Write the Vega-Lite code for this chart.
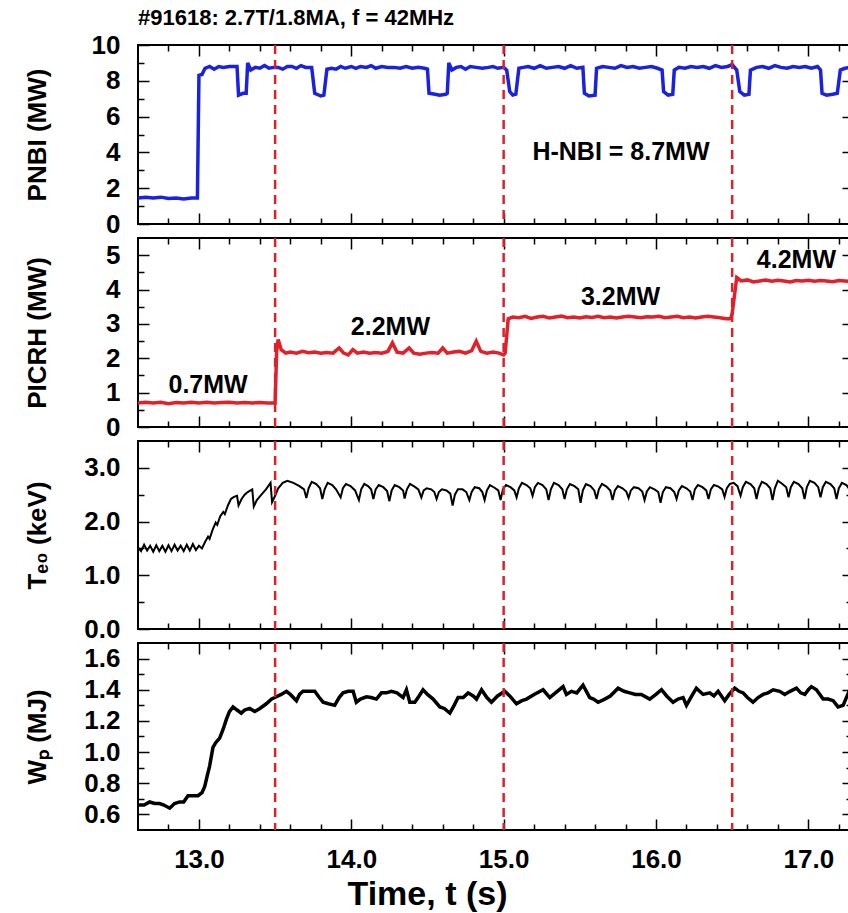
{
"$schema": "https://vega.github.io/schema/vega-lite/v6.json",
"padding": {"left": 23, "right": 0, "top": 6, "bottom": 0},
"autosize": {"type": "pad"},
"config": {
 "font": "Liberation Sans",
 "view": {"stroke": "black", "strokeWidth": 2},
 "axis": {"domain": false, "grid": false, "minExtent": 0, "labelFont": "Liberation Sans", "labelFontWeight": "bold", "labelFontSize": 26, "labelColor": "black", "tickColor": "black", "tickWidth": 1.5, "titleFont": "Liberation Sans", "titleFontWeight": "bold", "titleFontSize": 26, "titleColor": "black", "labelOverlap": false, "labelFlush": false, "labelBound": false},
 "text": {"font": "Liberation Sans", "fontWeight": "bold", "fontSize": 25, "color": "black"}
},
"datasets": {
 "markers": [{"t": 13.5}, {"t": 15.0}, {"t": 16.5}],
 "nbi": [
  {"t":12.60,"v":1.45},{"t":12.65,"v":1.5},{"t":12.70,"v":1.45},{"t":12.75,"v":1.5},{"t":12.80,"v":1.42},{"t":12.85,"v":1.45},{"t":12.90,"v":1.4},{"t":12.95,"v":1.45},{"t":12.99,"v":1.45},
  {"t":13.00,"v":8.3},{"t":13.02,"v":8.35},{"t":13.04,"v":8.7},{"t":13.07,"v":8.8},{"t":13.10,"v":8.65},{"t":13.13,"v":8.8},{"t":13.16,"v":8.75},{"t":13.20,"v":8.8},{"t":13.25,"v":8.8},
  {"t":13.26,"v":7.2},{"t":13.29,"v":7.3},{"t":13.31,"v":7.3},{"t":13.32,"v":9.0},{"t":13.34,"v":8.6},{"t":13.37,"v":8.75},{"t":13.40,"v":8.7},{"t":13.43,"v":8.85},{"t":13.46,"v":8.7},{"t":13.49,"v":8.75},{"t":13.52,"v":8.75},{"t":13.55,"v":8.65},{"t":13.58,"v":8.8},{"t":13.61,"v":8.8},{"t":13.64,"v":8.7},{"t":13.67,"v":8.85},{"t":13.70,"v":8.75},{"t":13.74,"v":8.75},
  {"t":13.76,"v":7.3},{"t":13.80,"v":7.15},{"t":13.82,"v":7.2},{"t":13.84,"v":8.65},{"t":13.87,"v":8.7},{"t":13.90,"v":8.65},{"t":13.93,"v":8.8},{"t":13.96,"v":8.7},{"t":14.00,"v":8.8},{"t":14.03,"v":8.7},{"t":14.06,"v":8.8},{"t":14.10,"v":8.75},{"t":14.13,"v":8.85},{"t":14.16,"v":8.7},{"t":14.20,"v":8.8},{"t":14.24,"v":8.75},{"t":14.28,"v":8.75},{"t":14.32,"v":8.7},{"t":14.36,"v":8.8},{"t":14.40,"v":8.7},{"t":14.44,"v":8.75},{"t":14.48,"v":8.7},{"t":14.50,"v":8.65},
  {"t":14.51,"v":7.3},{"t":14.55,"v":7.25},{"t":14.58,"v":7.2},{"t":14.62,"v":7.25},{"t":14.63,"v":7.3},{"t":14.64,"v":9.0},{"t":14.66,"v":8.6},{"t":14.69,"v":8.75},{"t":14.72,"v":8.8},{"t":14.75,"v":8.65},{"t":14.78,"v":8.8},{"t":14.82,"v":8.75},{"t":14.86,"v":8.7},{"t":14.90,"v":8.75},{"t":14.93,"v":8.8},{"t":14.96,"v":8.7},{"t":15.00,"v":8.75},{"t":15.02,"v":8.6},
  {"t":15.04,"v":7.4},{"t":15.06,"v":7.2},{"t":15.08,"v":7.25},{"t":15.10,"v":8.7},{"t":15.13,"v":8.75},{"t":15.16,"v":8.8},{"t":15.20,"v":8.7},{"t":15.24,"v":8.85},{"t":15.28,"v":8.7},{"t":15.32,"v":8.75},{"t":15.36,"v":8.8},{"t":15.40,"v":8.7},{"t":15.44,"v":8.85},{"t":15.48,"v":8.7},{"t":15.52,"v":8.75},
  {"t":15.53,"v":7.3},{"t":15.56,"v":7.15},{"t":15.60,"v":7.2},{"t":15.61,"v":8.7},{"t":15.65,"v":8.8},{"t":15.69,"v":8.75},{"t":15.73,"v":8.7},{"t":15.77,"v":8.85},{"t":15.81,"v":8.75},{"t":15.85,"v":8.8},{"t":15.89,"v":8.7},{"t":15.93,"v":8.75},{"t":15.97,"v":8.8},{"t":16.01,"v":8.7},{"t":16.04,"v":8.6},
  {"t":16.05,"v":7.4},{"t":16.08,"v":7.2},{"t":16.11,"v":7.25},{"t":16.12,"v":8.6},{"t":16.15,"v":8.75},{"t":16.19,"v":8.7},{"t":16.23,"v":8.8},{"t":16.27,"v":8.75},{"t":16.31,"v":8.8},{"t":16.35,"v":8.7},{"t":16.39,"v":8.85},{"t":16.43,"v":8.75},{"t":16.47,"v":8.8},{"t":16.50,"v":8.9},{"t":16.53,"v":8.6},
  {"t":16.55,"v":7.4},{"t":16.58,"v":7.2},{"t":16.61,"v":7.25},{"t":16.62,"v":8.6},{"t":16.66,"v":8.75},{"t":16.70,"v":8.8},{"t":16.74,"v":8.7},{"t":16.78,"v":8.85},{"t":16.82,"v":8.75},{"t":16.86,"v":8.7},{"t":16.90,"v":8.8},{"t":16.94,"v":8.75},{"t":16.98,"v":8.8},{"t":17.02,"v":8.7},{"t":17.06,"v":8.8},{"t":17.08,"v":8.6},
  {"t":17.09,"v":7.3},{"t":17.12,"v":7.2},{"t":17.16,"v":7.25},{"t":17.19,"v":7.3},{"t":17.21,"v":8.6},{"t":17.24,"v":8.7},{"t":17.28,"v":8.75}
 ],
 "icrh": [
  {"t":12.60,"v":0.7},{"t":12.65,"v":0.72},{"t":12.70,"v":0.7},{"t":12.75,"v":0.72},{"t":12.80,"v":0.68},{"t":12.85,"v":0.71},{"t":12.90,"v":0.7},{"t":12.95,"v":0.72},{"t":13.00,"v":0.7},{"t":13.05,"v":0.72},{"t":13.10,"v":0.7},{"t":13.15,"v":0.71},{"t":13.20,"v":0.72},{"t":13.25,"v":0.7},{"t":13.30,"v":0.71},{"t":13.35,"v":0.7},{"t":13.40,"v":0.71},{"t":13.45,"v":0.7},{"t":13.50,"v":0.7},
  {"t":13.51,"v":2.2},{"t":13.52,"v":2.55},{"t":13.54,"v":2.25},{"t":13.57,"v":2.15},{"t":13.60,"v":2.18},{"t":13.64,"v":2.15},{"t":13.68,"v":2.2},{"t":13.72,"v":2.16},{"t":13.76,"v":2.18},{"t":13.80,"v":2.15},{"t":13.84,"v":2.17},{"t":13.88,"v":2.15},{"t":13.92,"v":2.3},{"t":13.95,"v":2.15},{"t":13.98,"v":2.1},{"t":14.01,"v":2.25},{"t":14.04,"v":2.15},{"t":14.08,"v":2.18},{"t":14.12,"v":2.15},{"t":14.16,"v":2.17},{"t":14.20,"v":2.15},{"t":14.24,"v":2.2},{"t":14.27,"v":2.45},{"t":14.30,"v":2.18},{"t":14.34,"v":2.15},{"t":14.38,"v":2.3},{"t":14.41,"v":2.15},{"t":14.45,"v":2.12},{"t":14.49,"v":2.15},{"t":14.53,"v":2.17},{"t":14.57,"v":2.15},{"t":14.60,"v":2.3},{"t":14.63,"v":2.15},{"t":14.67,"v":2.18},{"t":14.71,"v":2.2},{"t":14.75,"v":2.15},{"t":14.79,"v":2.22},{"t":14.82,"v":2.5},{"t":14.85,"v":2.2},{"t":14.89,"v":2.15},{"t":14.93,"v":2.18},{"t":14.97,"v":2.15},{"t":15.00,"v":2.1},{"t":15.01,"v":2.15},
  {"t":15.03,"v":3.15},{"t":15.06,"v":3.2},{"t":15.10,"v":3.18},{"t":15.14,"v":3.22},{"t":15.18,"v":3.16},{"t":15.22,"v":3.2},{"t":15.26,"v":3.22},{"t":15.30,"v":3.17},{"t":15.34,"v":3.2},{"t":15.38,"v":3.23},{"t":15.42,"v":3.18},{"t":15.46,"v":3.2},{"t":15.50,"v":3.17},{"t":15.54,"v":3.21},{"t":15.58,"v":3.19},{"t":15.62,"v":3.22},{"t":15.66,"v":3.18},{"t":15.70,"v":3.2},{"t":15.74,"v":3.17},{"t":15.78,"v":3.2},{"t":15.82,"v":3.22},{"t":15.86,"v":3.2},{"t":15.90,"v":3.18},{"t":15.94,"v":3.21},{"t":15.98,"v":3.2},{"t":16.02,"v":3.22},{"t":16.06,"v":3.18},{"t":16.10,"v":3.2},{"t":16.14,"v":3.22},{"t":16.18,"v":3.18},{"t":16.22,"v":3.2},{"t":16.26,"v":3.17},{"t":16.30,"v":3.2},{"t":16.34,"v":3.22},{"t":16.38,"v":3.2},{"t":16.42,"v":3.18},{"t":16.46,"v":3.15},{"t":16.49,"v":3.15},
  {"t":16.50,"v":3.3},{"t":16.52,"v":4.0},{"t":16.53,"v":4.35},{"t":16.56,"v":4.25},{"t":16.60,"v":4.28},{"t":16.64,"v":4.22},{"t":16.68,"v":4.25},{"t":16.72,"v":4.28},{"t":16.76,"v":4.24},{"t":16.80,"v":4.27},{"t":16.84,"v":4.25},{"t":16.88,"v":4.22},{"t":16.92,"v":4.26},{"t":16.96,"v":4.25},{"t":17.00,"v":4.27},{"t":17.04,"v":4.24},{"t":17.08,"v":4.26},{"t":17.12,"v":4.25},{"t":17.16,"v":4.23},{"t":17.20,"v":4.26},{"t":17.24,"v":4.25},{"t":17.28,"v":4.24}
 ],
 "te": [
  {"t":12.60,"v":1.52},{"t":12.62,"v":1.45},{"t":12.64,"v":1.57},{"t":12.66,"v":1.46},{"t":12.68,"v":1.55},{"t":12.70,"v":1.44},{"t":12.72,"v":1.56},{"t":12.74,"v":1.45},{"t":12.76,"v":1.55},{"t":12.78,"v":1.44},{"t":12.80,"v":1.56},{"t":12.82,"v":1.45},{"t":12.84,"v":1.57},{"t":12.86,"v":1.46},{"t":12.88,"v":1.55},{"t":12.90,"v":1.45},{"t":12.92,"v":1.57},{"t":12.94,"v":1.46},{"t":12.96,"v":1.58},{"t":12.98,"v":1.47},
  {"t":13.00,"v":1.55},{"t":13.02,"v":1.5},{"t":13.04,"v":1.62},{"t":13.06,"v":1.72},{"t":13.07,"v":1.68},{"t":13.09,"v":1.85},{"t":13.11,"v":1.98},{"t":13.12,"v":1.94},{"t":13.14,"v":2.1},{"t":13.16,"v":2.18},{"t":13.17,"v":2.14},{"t":13.19,"v":2.3},{"t":13.21,"v":2.42},{"t":13.23,"v":2.46},{"t":13.25,"v":2.48},{"t":13.26,"v":2.3},{"t":13.28,"v":2.42},{"t":13.30,"v":2.5},{"t":13.32,"v":2.55},{"t":13.35,"v":2.6},{"t":13.36,"v":2.28},{"t":13.38,"v":2.4},{"t":13.41,"v":2.5},{"t":13.44,"v":2.6},{"t":13.47,"v":2.72},{"t":13.48,"v":2.36},{"t":13.50,"v":2.48},{"t":13.52,"v":2.62},{"t":13.55,"v":2.72},{"t":13.58,"v":2.76},{"t":13.62,"v":2.72},{"t":13.66,"v":2.66},{"t":13.69,"v":2.6},
  {"t":13.705,"v":2.44},{"t":13.72,"v":2.62},{"t":13.74,"v":2.74},{"t":13.77,"v":2.7},{"t":13.795,"v":2.62},
  {"t":13.81,"v":2.42},{"t":13.825,"v":2.6},{"t":13.845,"v":2.72},{"t":13.875,"v":2.68},{"t":13.9,"v":2.6},
  {"t":13.93,"v":2.45},{"t":13.945,"v":2.62},{"t":13.965,"v":2.7},{"t":13.995,"v":2.66},{"t":14.025,"v":2.58},
  {"t":14.05,"v":2.4},{"t":14.065,"v":2.6},{"t":14.085,"v":2.7},{"t":14.11,"v":2.66},{"t":14.13,"v":2.6},
  {"t":14.145,"v":2.42},{"t":14.16,"v":2.6},{"t":14.18,"v":2.68},{"t":14.21,"v":2.64},{"t":14.235,"v":2.57},
  {"t":14.25,"v":2.38},{"t":14.265,"v":2.58},{"t":14.285,"v":2.68},{"t":14.315,"v":2.64},{"t":14.34,"v":2.58},
  {"t":14.35,"v":2.43},{"t":14.365,"v":2.6},{"t":14.385,"v":2.7},{"t":14.415,"v":2.65},{"t":14.44,"v":2.6},
  {"t":14.46,"v":2.45},{"t":14.475,"v":2.58},{"t":14.495,"v":2.62},{"t":14.525,"v":2.6},{"t":14.545,"v":2.55},
  {"t":14.56,"v":2.42},{"t":14.575,"v":2.55},{"t":14.595,"v":2.6},{"t":14.625,"v":2.58},{"t":14.65,"v":2.52},
  {"t":14.665,"v":2.3},{"t":14.68,"v":2.5},{"t":14.7,"v":2.6},{"t":14.73,"v":2.6},{"t":14.755,"v":2.55},
  {"t":14.775,"v":2.4},{"t":14.79,"v":2.55},{"t":14.81,"v":2.64},{"t":14.84,"v":2.62},{"t":14.86,"v":2.55},
  {"t":14.875,"v":2.4},{"t":14.89,"v":2.58},{"t":14.91,"v":2.68},{"t":14.94,"v":2.63},{"t":14.965,"v":2.58},
  {"t":14.98,"v":2.4},{"t":14.995,"v":2.6},{"t":15.015,"v":2.68},{"t":15.045,"v":2.64},{"t":15.07,"v":2.58},
  {"t":15.085,"v":2.45},{"t":15.1,"v":2.62},{"t":15.12,"v":2.72},{"t":15.15,"v":2.68},{"t":15.175,"v":2.62},
  {"t":15.19,"v":2.48},{"t":15.205,"v":2.64},{"t":15.225,"v":2.72},{"t":15.255,"v":2.68},{"t":15.28,"v":2.6},
  {"t":15.295,"v":2.4},{"t":15.31,"v":2.6},{"t":15.33,"v":2.72},{"t":15.36,"v":2.68},{"t":15.385,"v":2.6},
  {"t":15.4,"v":2.42},{"t":15.415,"v":2.6},{"t":15.435,"v":2.7},{"t":15.465,"v":2.66},{"t":15.49,"v":2.6},
  {"t":15.505,"v":2.35},{"t":15.52,"v":2.58},{"t":15.54,"v":2.7},{"t":15.57,"v":2.66},{"t":15.595,"v":2.58},
  {"t":15.61,"v":2.42},{"t":15.625,"v":2.6},{"t":15.645,"v":2.7},{"t":15.675,"v":2.65},{"t":15.7,"v":2.58},
  {"t":15.715,"v":2.4},{"t":15.73,"v":2.58},{"t":15.75,"v":2.66},{"t":15.78,"v":2.62},{"t":15.805,"v":2.56},
  {"t":15.82,"v":2.44},{"t":15.835,"v":2.58},{"t":15.855,"v":2.64},{"t":15.885,"v":2.62},{"t":15.91,"v":2.56},
  {"t":15.925,"v":2.4},{"t":15.94,"v":2.56},{"t":15.96,"v":2.64},{"t":15.99,"v":2.6},{"t":16.015,"v":2.55},
  {"t":16.03,"v":2.35},{"t":16.045,"v":2.55},{"t":16.065,"v":2.64},{"t":16.095,"v":2.62},{"t":16.12,"v":2.55},
  {"t":16.135,"v":2.42},{"t":16.15,"v":2.58},{"t":16.17,"v":2.66},{"t":16.2,"v":2.62},{"t":16.225,"v":2.56},
  {"t":16.24,"v":2.4},{"t":16.255,"v":2.6},{"t":16.275,"v":2.68},{"t":16.305,"v":2.64},{"t":16.33,"v":2.58},
  {"t":16.345,"v":2.42},{"t":16.36,"v":2.6},{"t":16.38,"v":2.68},{"t":16.41,"v":2.65},{"t":16.435,"v":2.6},
  {"t":16.45,"v":2.46},{"t":16.465,"v":2.62},{"t":16.485,"v":2.7},{"t":16.51,"v":2.72},{"t":16.535,"v":2.66},
  {"t":16.555,"v":2.48},{"t":16.57,"v":2.64},{"t":16.59,"v":2.74},{"t":16.62,"v":2.7},{"t":16.645,"v":2.62},
  {"t":16.66,"v":2.42},{"t":16.675,"v":2.62},{"t":16.695,"v":2.74},{"t":16.725,"v":2.7},{"t":16.75,"v":2.62},
  {"t":16.765,"v":2.4},{"t":16.78,"v":2.62},{"t":16.8,"v":2.76},{"t":16.83,"v":2.7},{"t":16.855,"v":2.64},
  {"t":16.87,"v":2.45},{"t":16.885,"v":2.64},{"t":16.905,"v":2.74},{"t":16.935,"v":2.7},{"t":16.96,"v":2.62},
  {"t":16.975,"v":2.42},{"t":16.99,"v":2.64},{"t":17.01,"v":2.76},{"t":17.04,"v":2.72},{"t":17.065,"v":2.64},
  {"t":17.08,"v":2.45},{"t":17.095,"v":2.64},{"t":17.115,"v":2.74},{"t":17.145,"v":2.7},{"t":17.17,"v":2.62},
  {"t":17.185,"v":2.42},{"t":17.2,"v":2.62},{"t":17.22,"v":2.72},{"t":17.25,"v":2.68},{"t":17.28,"v":2.56}
 ],
 "wp": [
  {"t":12.60,"v":0.66},{"t":12.64,"v":0.66},{"t":12.676,"v":0.68},{"t":12.71,"v":0.67},{"t":12.742,"v":0.67},{"t":12.77,"v":0.66},{"t":12.808,"v":0.64},{"t":12.84,"v":0.67},{"t":12.873,"v":0.68},{"t":12.9,"v":0.68},{"t":12.928,"v":0.72},{"t":12.96,"v":0.72},{"t":12.994,"v":0.72},{"t":13.02,"v":0.74},{"t":13.038,"v":0.78},{"t":13.055,"v":0.85},{"t":13.07,"v":0.91},{"t":13.092,"v":1.03},{"t":13.11,"v":1.06},{"t":13.136,"v":1.09},{"t":13.16,"v":1.15},{"t":13.18,"v":1.21},{"t":13.2,"v":1.26},{"t":13.224,"v":1.29},{"t":13.25,"v":1.27},{"t":13.278,"v":1.25},{"t":13.3,"v":1.27},{"t":13.333,"v":1.28},{"t":13.366,"v":1.26},{"t":13.4,"v":1.28},{"t":13.442,"v":1.31},{"t":13.475,"v":1.34},{"t":13.508,"v":1.355},{"t":13.54,"v":1.37},{"t":13.574,"v":1.39},{"t":13.6,"v":1.37},{"t":13.64,"v":1.33},{"t":13.66,"v":1.37},{"t":13.683,"v":1.39},{"t":13.72,"v":1.39},{"t":13.76,"v":1.39},{"t":13.79,"v":1.35},{"t":13.815,"v":1.32},{"t":13.85,"v":1.31},{"t":13.891,"v":1.3},{"t":13.92,"v":1.35},{"t":13.946,"v":1.38},{"t":13.98,"v":1.39},{"t":14.012,"v":1.39},{"t":14.033,"v":1.32},{"t":14.06,"v":1.34},{"t":14.099,"v":1.355},{"t":14.13,"v":1.35},{"t":14.165,"v":1.34},{"t":14.198,"v":1.38},{"t":14.23,"v":1.38},{"t":14.263,"v":1.39},{"t":14.3,"v":1.38},{"t":14.34,"v":1.35},{"t":14.362,"v":1.4},{"t":14.384,"v":1.32},{"t":14.417,"v":1.32},{"t":14.445,"v":1.36},{"t":14.471,"v":1.4},{"t":14.5,"v":1.37},{"t":14.537,"v":1.34},{"t":14.581,"v":1.29},{"t":14.61,"v":1.28},{"t":14.647,"v":1.25},{"t":14.675,"v":1.3},{"t":14.701,"v":1.35},{"t":14.735,"v":1.35},{"t":14.767,"v":1.38},{"t":14.8,"v":1.36},{"t":14.822,"v":1.34},{"t":14.855,"v":1.4},{"t":14.89,"v":1.35},{"t":14.92,"v":1.32},{"t":14.96,"v":1.36},{"t":15.007,"v":1.39},{"t":15.04,"v":1.36},{"t":15.084,"v":1.31},{"t":15.12,"v":1.33},{"t":15.15,"v":1.34},{"t":15.2,"v":1.37},{"t":15.259,"v":1.4},{"t":15.303,"v":1.35},{"t":15.34,"v":1.38},{"t":15.39,"v":1.42},{"t":15.412,"v":1.37},{"t":15.445,"v":1.39},{"t":15.48,"v":1.38},{"t":15.521,"v":1.43},{"t":15.565,"v":1.35},{"t":15.59,"v":1.34},{"t":15.62,"v":1.32},{"t":15.664,"v":1.34},{"t":15.7,"v":1.36},{"t":15.751,"v":1.41},{"t":15.79,"v":1.39},{"t":15.828,"v":1.38},{"t":15.865,"v":1.37},{"t":15.904,"v":1.37},{"t":15.959,"v":1.34},{"t":16.0,"v":1.37},{"t":16.036,"v":1.4},{"t":16.07,"v":1.36},{"t":16.112,"v":1.32},{"t":16.145,"v":1.34},{"t":16.178,"v":1.35},{"t":16.2,"v":1.3},{"t":16.235,"v":1.36},{"t":16.265,"v":1.41},{"t":16.309,"v":1.37},{"t":16.353,"v":1.38},{"t":16.38,"v":1.36},{"t":16.408,"v":1.39},{"t":16.451,"v":1.33},{"t":16.48,"v":1.37},{"t":16.517,"v":1.41},{"t":16.545,"v":1.39},{"t":16.572,"v":1.38},{"t":16.6,"v":1.35},{"t":16.637,"v":1.32},{"t":16.67,"v":1.35},{"t":16.703,"v":1.37},{"t":16.735,"v":1.38},{"t":16.769,"v":1.4},{"t":16.812,"v":1.39},{"t":16.845,"v":1.37},{"t":16.88,"v":1.39},{"t":16.922,"v":1.41},{"t":16.95,"v":1.38},{"t":16.977,"v":1.37},{"t":17.0,"v":1.4},{"t":17.02,"v":1.42},{"t":17.053,"v":1.4},{"t":17.097,"v":1.34},{"t":17.13,"v":1.34},{"t":17.163,"v":1.33},{"t":17.195,"v":1.29},{"t":17.228,"v":1.3},{"t":17.272,"v":1.4},{"t":17.28,"v":1.4}
 ]
},
"vconcat": [
 {
  "width": 713, "height": 179,
  "title": {"text": "#91618: 2.7T/1.8MA, f = 42MHz", "anchor": "start", "frame": "group", "fontSize": 22, "fontWeight": "bold", "font": "Liberation Sans", "color": "black", "offset": 2},
  "layer": [
   {"data": {"name": "nbi"}, "mark": {"type": "line", "color": "#1a22e0", "strokeWidth": 3.5, "clip": true},
    "encoding": {
     "x": {"field": "t", "type": "quantitative", "scale": {"domain": [12.6, 17.28], "nice": false, "zero": false},
       "axis": {"orient": "bottom", "values": [12.8,13.0,13.2,13.4,13.6,13.8,14.0,14.2,14.4,14.6,14.8,15.0,15.2,15.4,15.6,15.8,16.0,16.2,16.4,16.6,16.8,17.0,17.2], "labels": false, "title": null, "tickSize": {"condition": {"test": "abs(datum.value - round(datum.value)) < 0.001", "value": -11}, "value": -6}}},
     "y": {"field": "v", "type": "quantitative", "scale": {"domain": [0, 10], "nice": false},
       "axis": {"orient": "left", "values": [0,1,2,3,4,5,6,7,8,9,10], "labelExpr": "datum.value % 2 === 0 ? format(datum.value, 'd') : ''", "tickSize": {"condition": {"test": "datum.value % 2 === 0", "value": -11}, "value": -6}, "labelPadding": 29, "title": "PNBI (MW)", "titleX": -88, "titleAngle": 270, "titleBaseline": "bottom"}}
    }},
   {"data": {"name": "nbi"}, "mark": {"type": "line", "opacity": 0},
    "encoding": {
     "x": {"field": "t", "type": "quantitative", "axis": {"orient": "top", "values": [12.8,13.0,13.2,13.4,13.6,13.8,14.0,14.2,14.4,14.6,14.8,15.0,15.2,15.4,15.6,15.8,16.0,16.2,16.4,16.6,16.8,17.0,17.2], "labels": false, "title": null, "tickSize": {"condition": {"test": "abs(datum.value - round(datum.value)) < 0.001", "value": -11}, "value": -6}}},
     "y": {"field": "v", "type": "quantitative", "axis": {"orient": "right", "values": [2,4,6,8], "labels": false, "title": null, "tickSize": -9}}
    }},
   {"data": {"name": "markers"}, "mark": {"type": "rule", "color": "#d9232b", "strokeDash": [9, 6], "strokeWidth": 2.5},
    "encoding": {"x": {"field": "t", "type": "quantitative", "axis": null}}},
   {"data": {"values": [{"t": 15.77, "v": 4.0, "label": "H-NBI = 8.7MW"}]}, "mark": {"type": "text"},
    "encoding": {"x": {"field": "t", "type": "quantitative", "axis": null}, "y": {"field": "v", "type": "quantitative", "axis": null}, "text": {"field": "label"}}}
  ],
  "resolve": {"axis": {"x": "independent", "y": "independent"}}
 },
 {
  "width": 713, "height": 189,
  "layer": [
   {"data": {"name": "icrh"}, "mark": {"type": "line", "color": "#e3202a", "strokeWidth": 3.5, "clip": true},
    "encoding": {
     "x": {"field": "t", "type": "quantitative", "scale": {"domain": [12.6, 17.28], "nice": false, "zero": false},
       "axis": {"orient": "bottom", "values": [12.8,13.0,13.2,13.4,13.6,13.8,14.0,14.2,14.4,14.6,14.8,15.0,15.2,15.4,15.6,15.8,16.0,16.2,16.4,16.6,16.8,17.0,17.2], "labels": false, "title": null, "tickSize": {"condition": {"test": "abs(datum.value - round(datum.value)) < 0.001", "value": -11}, "value": -6}}},
     "y": {"field": "v", "type": "quantitative", "scale": {"domain": [0, 5.5], "nice": false},
       "axis": {"orient": "left", "values": [0,0.5,1,1.5,2,2.5,3,3.5,4,4.5,5], "labelExpr": "datum.value % 1 === 0 ? format(datum.value, 'd') : ''", "tickSize": {"condition": {"test": "datum.value % 1 === 0", "value": -11}, "value": -6}, "labelPadding": 29, "title": "PICRH (MW)", "titleX": -88, "titleAngle": 270, "titleBaseline": "bottom"}}
    }},
   {"data": {"name": "icrh"}, "mark": {"type": "line", "opacity": 0},
    "encoding": {
     "x": {"field": "t", "type": "quantitative", "axis": {"orient": "top", "values": [12.8,13.0,13.2,13.4,13.6,13.8,14.0,14.2,14.4,14.6,14.8,15.0,15.2,15.4,15.6,15.8,16.0,16.2,16.4,16.6,16.8,17.0,17.2], "labels": false, "title": null, "tickSize": {"condition": {"test": "abs(datum.value - round(datum.value)) < 0.001", "value": -11}, "value": -6}}},
     "y": {"field": "v", "type": "quantitative", "axis": {"orient": "right", "values": [1,2,3,4,5], "labels": false, "title": null, "tickSize": -9}}
    }},
   {"data": {"name": "markers"}, "mark": {"type": "rule", "color": "#d9232b", "strokeDash": [9, 6], "strokeWidth": 2.5},
    "encoding": {"x": {"field": "t", "type": "quantitative", "axis": null}}},
   {"data": {"values": [{"t": 13.06, "v": 1.22, "label": "0.7MW"}, {"t": 14.257, "v": 2.92, "label": "2.2MW"}, {"t": 15.767, "v": 3.79, "label": "3.2MW"}, {"t": 16.922, "v": 4.85, "label": "4.2MW"}]}, "mark": {"type": "text"},
    "encoding": {"x": {"field": "t", "type": "quantitative", "axis": null}, "y": {"field": "v", "type": "quantitative", "axis": null}, "text": {"field": "label"}}}
  ],
  "resolve": {"axis": {"x": "independent", "y": "independent"}}
 },
 {
  "width": 713, "height": 188,
  "layer": [
   {"data": {"name": "te"}, "mark": {"type": "line", "color": "black", "strokeWidth": 2, "clip": true},
    "encoding": {
     "x": {"field": "t", "type": "quantitative", "scale": {"domain": [12.6, 17.28], "nice": false, "zero": false},
       "axis": {"orient": "bottom", "values": [12.8,13.0,13.2,13.4,13.6,13.8,14.0,14.2,14.4,14.6,14.8,15.0,15.2,15.4,15.6,15.8,16.0,16.2,16.4,16.6,16.8,17.0,17.2], "labels": false, "title": null, "tickSize": {"condition": {"test": "abs(datum.value - round(datum.value)) < 0.001", "value": -11}, "value": -6}}},
     "y": {"field": "v", "type": "quantitative", "scale": {"domain": [0, 3.5], "nice": false},
       "axis": {"orient": "left", "values": [0,0.5,1,1.5,2,2.5,3], "labelExpr": "datum.value % 1 === 0 ? format(datum.value, '.1f') : ''", "tickSize": {"condition": {"test": "datum.value % 1 === 0", "value": -11}, "value": -6}, "labelPadding": 29, "title": "Tₑ₀ (keV)", "titleX": -88, "titleAngle": 270, "titleBaseline": "bottom"}}
    }},
   {"data": {"name": "te"}, "mark": {"type": "line", "opacity": 0},
    "encoding": {
     "x": {"field": "t", "type": "quantitative", "axis": {"orient": "top", "values": [12.8,13.0,13.2,13.4,13.6,13.8,14.0,14.2,14.4,14.6,14.8,15.0,15.2,15.4,15.6,15.8,16.0,16.2,16.4,16.6,16.8,17.0,17.2], "labels": false, "title": null, "tickSize": {"condition": {"test": "abs(datum.value - round(datum.value)) < 0.001", "value": -11}, "value": -6}}},
     "y": {"field": "v", "type": "quantitative", "axis": {"orient": "right", "values": [0.5,1,1.5,2,2.5,3], "labels": false, "title": null, "tickSize": {"condition": {"test": "datum.value % 1 === 0", "value": -9}, "value": -5}}}
    }},
   {"data": {"name": "markers"}, "mark": {"type": "rule", "color": "#d9232b", "strokeDash": [9, 6], "strokeWidth": 2.5},
    "encoding": {"x": {"field": "t", "type": "quantitative", "axis": null}}}
  ],
  "resolve": {"axis": {"x": "independent", "y": "independent"}}
 },
 {
  "width": 713, "height": 187,
  "layer": [
   {"data": {"name": "wp"}, "mark": {"type": "line", "color": "black", "strokeWidth": 3.5, "clip": true},
    "encoding": {
     "x": {"field": "t", "type": "quantitative", "scale": {"domain": [12.6, 17.28], "nice": false, "zero": false},
       "axis": {"orient": "bottom", "values": [12.8,13.0,13.2,13.4,13.6,13.8,14.0,14.2,14.4,14.6,14.8,15.0,15.2,15.4,15.6,15.8,16.0,16.2,16.4,16.6,16.8,17.0,17.2], "labelExpr": "abs(datum.value - round(datum.value)) < 0.001 ? format(datum.value, '.1f') : ''", "labelPadding": 27, "title": "Time, t (s)", "titleFontSize": 34, "titleX": 289, "titlePadding": 0, "tickSize": {"condition": {"test": "abs(datum.value - round(datum.value)) < 0.001", "value": -11}, "value": -6}}},
     "y": {"field": "v", "type": "quantitative", "scale": {"domain": [0.5, 1.7], "nice": false, "zero": false},
       "axis": {"orient": "left", "values": [0.6,0.7,0.8,0.9,1.0,1.1,1.2,1.3,1.4,1.5,1.6], "labelExpr": "round(datum.value * 10) % 2 === 0 ? format(datum.value, '.1f') : ''", "tickSize": {"condition": {"test": "round(datum.value * 10) % 2 === 0", "value": -11}, "value": -6}, "labelPadding": 29, "title": "Wₚ (MJ)", "titleX": -88, "titleAngle": 270, "titleBaseline": "bottom"}}
    }},
   {"data": {"name": "wp"}, "mark": {"type": "line", "opacity": 0},
    "encoding": {
     "x": {"field": "t", "type": "quantitative", "axis": {"orient": "top", "values": [12.8,13.0,13.2,13.4,13.6,13.8,14.0,14.2,14.4,14.6,14.8,15.0,15.2,15.4,15.6,15.8,16.0,16.2,16.4,16.6,16.8,17.0,17.2], "labels": false, "title": null, "tickSize": {"condition": {"test": "abs(datum.value - round(datum.value)) < 0.001", "value": -11}, "value": -6}}},
     "y": {"field": "v", "type": "quantitative", "axis": {"orient": "right", "values": [0.6,0.7,0.8,0.9,1.0,1.1,1.2,1.3,1.4,1.5,1.6], "labels": false, "title": null, "tickSize": {"condition": {"test": "round(datum.value * 10) % 2 === 0", "value": -9}, "value": -5}}}
    }},
   {"data": {"name": "markers"}, "mark": {"type": "rule", "color": "#d9232b", "strokeDash": [9, 6], "strokeWidth": 2.5},
    "encoding": {"x": {"field": "t", "type": "quantitative", "axis": null}}}
  ],
  "resolve": {"axis": {"x": "independent", "y": "independent"}}
 }
],
"spacing": -3
}
